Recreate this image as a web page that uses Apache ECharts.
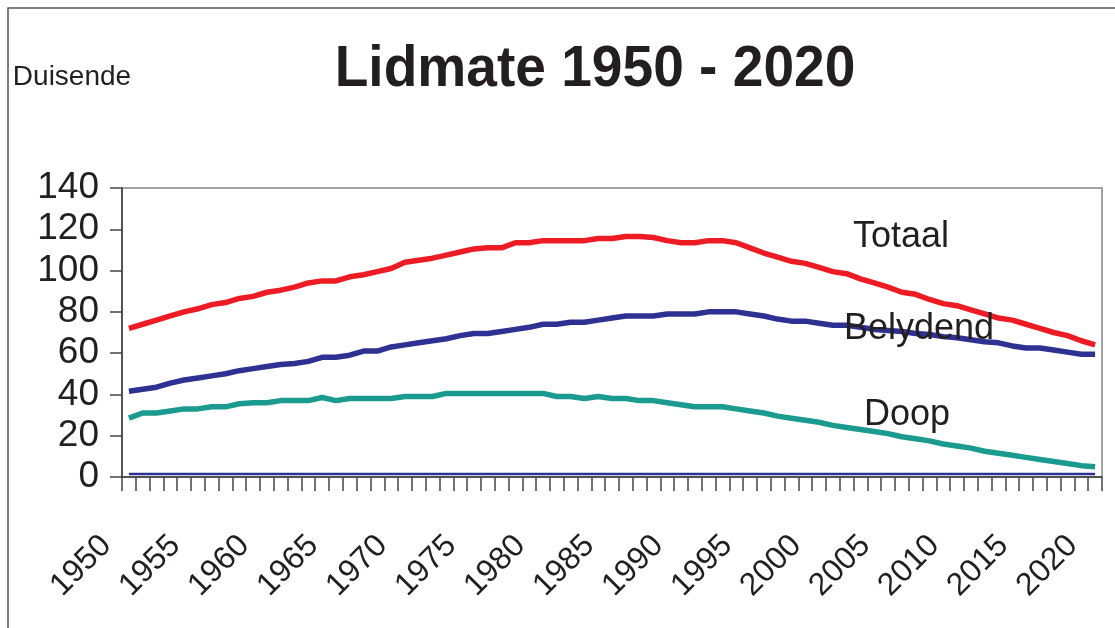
<!DOCTYPE html>
<html><head><meta charset="utf-8">
<script src="https://cdn.jsdelivr.net/npm/echarts@6/dist/echarts.min.js"></script>
<style>html,body{margin:0;padding:0;background:#fff}#c{width:1115px;height:628px}</style>
</head><body><div id="c"></div>
<script>
const years = ['1950','1951','1952','1953','1954','1955','1956','1957','1958','1959',
  '1960','1961','1962','1963','1964','1965','1966','1967','1968','1969',
  '1970','1971','1972','1973','1974','1975','1976','1977','1978','1979',
  '1980','1981','1982','1983','1984','1985','1986','1987','1988','1989',
  '1990','1991','1992','1993','1994','1995','1996','1997','1998','1999',
  '2000','2001','2002','2003','2004','2005','2006','2007','2008','2009',
  '2010','2011','2012','2013','2014','2015','2016','2017','2018','2019','2020'];
const totaal = [72,74,76,78,80,81.5,83.5,84.5,86.5,87.5,
  89.5,90.5,92,94,95,95,97,98,99.5,101,
  104,105,106,107.5,109,110.5,111,111,113.5,113.5,
  114.5,114.5,114.5,114.5,115.5,115.5,116.5,116.5,116,114.5,
  113.5,113.5,114.5,114.5,113.5,111,108.5,106.5,104.5,103.5,
  101.5,99.5,98.5,96,94,92,89.5,88.5,86,84,
  83,81,79,77,76,74,72,70,68.5,66,64];
const belydend = [41.5,42.5,43.5,45.5,47,48,49,50,51.5,52.5,
  53.5,54.5,55,56,58,58,59,61,61,63,
  64,65,66,67,68.5,69.5,69.5,70.5,71.5,72.5,
  74,74,75,75,76,77,78,78,78,79,
  79,79,80,80,80,79,78,76.5,75.5,75.5,
  74.5,73.5,73.5,72.5,71.5,71,70.5,69.5,69,68,
  67.5,66.5,65.5,65,63.5,62.5,62.5,61.5,60.5,59.5,59.5];
const doop = [28.5,31,31,32,33,33,34,34,35.5,36,
  36,37,37,37,38.5,37,38,38,38,38,
  39,39,39,40.5,40.5,40.5,40.5,40.5,40.5,40.5,
  40.5,39,39,38,39,38,38,37,37,36,
  35,34,34,34,33,32,31,29.5,28.5,27.5,
  26.5,25,24,23,22,21,19.5,18.5,17.5,16,
  15,14,12.5,11.5,10.5,9.5,8.5,7.5,6.5,5.5,5];
const basis = [1.5,1.5,1.5,1.5,1.5,1.5,1.5,1.5,1.5,1.5,
  1.5,1.5,1.5,1.5,1.5,1.5,1.5,1.5,1.5,1.5,
  1.5,1.5,1.5,1.5,1.5,1.5,1.5,1.5,1.5,1.5,
  1.5,1.5,1.5,1.5,1.5,1.5,1.5,1.5,1.5,1.5,
  1.5,1.5,1.5,1.5,1.5,1.5,1.5,1.5,1.5,1.5,
  1.5,1.5,1.5,1.5,1.5,1.5,1.5,1.5,1.5,1.5,
  1.5,1.5,1.5,1.5,1.5,1.5,1.5,1.5,1.5,1.5,1.5];
const titleText = 'Lidmate 1950 - 2020';
const unitText = 'Duisende';
const seriesNames = ['Totaal','Belydend','Doop'];

const FONT = "'Liberation Sans', Arial, Helvetica, sans-serif";
const chart = echarts.init(document.getElementById('c'), null, {renderer:'canvas'});
chart.setOption({
  animation:false,
  backgroundColor:'#ffffff',
  textStyle:{fontFamily:FONT},
  grid:{left:122, right:13, top:188, bottom:151, show:true, borderColor:'#a3a3a3', borderWidth:2, backgroundColor:'transparent'},
  xAxis:{
    type:'category', data:years, boundaryGap:true,
    axisLine:{show:true, lineStyle:{color:'#3a3a3a', width:1.5}},
    axisTick:{show:true, interval:0, length:14, lineStyle:{color:'#444', width:1.5}},
    axisLabel:{interval:4, rotate:45, fontSize:32, color:'#231f20', margin:41, padding:[0,32,0,0], fontFamily:FONT},
    splitLine:{show:false}
  },
  yAxis:{
    type:'value', min:0, max:140, interval:20,
    axisLine:{show:true, lineStyle:{color:'#3a3a3a', width:1.5}},
    axisTick:{show:true, length:12, lineStyle:{color:'#444', width:1.5}},
    axisLabel:{fontSize:37, color:'#231f20', margin:23, fontFamily:FONT},
    splitLine:{show:false}
  },
  series:[
    {type:'line', data:basis, symbol:'none', lineStyle:{color:'#2e3192', width:2.5}, z:2},
    {name:seriesNames[0], type:'line', data:totaal, symbol:'none', lineStyle:{color:'#ed1c24', width:5.5}, z:3},
    {name:seriesNames[1], type:'line', data:belydend, symbol:'none', lineStyle:{color:'#2e3192', width:5.5}, z:3},
    {name:seriesNames[2], type:'line', data:doop, symbol:'none', lineStyle:{color:'#1b9a8f', width:5.5}, z:3}
  ],
  graphic:[
    {type:'rect', shape:{x:8, y:8, width:1300, height:800}, style:{fill:'none', stroke:'#555', lineWidth:1.5}, z:-1, silent:true},
    {type:'text', x:595, y:70, scaleX:0.95, style:{text:titleText, font:'bold 58px '+FONT, fill:'#231f20', textAlign:'center', textVerticalAlign:'middle'}},
    {type:'text', x:72, y:77, style:{text:unitText, font:'28px '+FONT, fill:'#231f20', textAlign:'center', textVerticalAlign:'middle'}},
    {type:'text', x:901, y:237, style:{text:seriesNames[0], font:'36px '+FONT, fill:'#231f20', textAlign:'center', textVerticalAlign:'middle'}, z:10},
    {type:'text', x:919, y:329, style:{text:seriesNames[1], font:'36px '+FONT, fill:'#231f20', textAlign:'center', textVerticalAlign:'middle'}, z:10},
    {type:'text', x:907, y:415, style:{text:seriesNames[2], font:'36px '+FONT, fill:'#231f20', textAlign:'center', textVerticalAlign:'middle'}, z:10}
  ]
});
</script></body></html>
